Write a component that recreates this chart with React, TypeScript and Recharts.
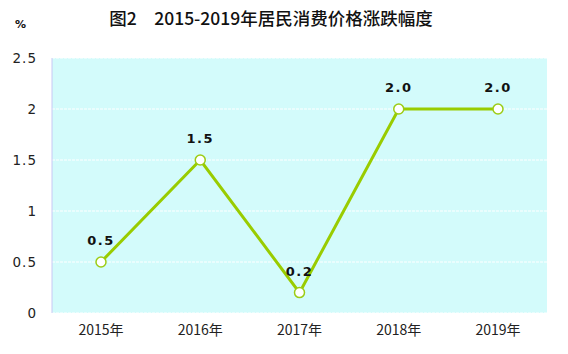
import React from 'react';
import { LineChart, Line, XAxis, YAxis, CartesianGrid, LabelList } from 'recharts';

const years = ['2015年', '2016年', '2017年', '2018年', '2019年'];
const cpiChange = [0.5, 1.5, 0.2, 2.0, 2.0];
const yTicks = [0, 0.5, 1, 1.5, 2, 2.5];

const data = years.map((y, i) => ({ year: y, value: cpiChange[i] }));

const fmtTick = (v: number) => (Number.isInteger(v) ? String(v) : v.toFixed(1));

const YTick = (props: any) => {
  const { x, y, payload } = props;
  return (
    <text x={x} y={y} dy={5} textAnchor="end" fontSize={13.5} fill="#222" letterSpacing={1} fontFamily="'DejaVu Sans', sans-serif">
      {fmtTick(payload.value)}
    </text>
  );
};

const XTick = (props: any) => {
  const { x, y, payload } = props;
  return (
    <text x={x} y={y} dy={14} textAnchor="middle" fontSize={14} fill="#222" fontFamily="'Noto Sans CJK SC', sans-serif">
      {payload.value}
    </text>
  );
};

const Dot = (props: any) => {
  const { cx, cy } = props;
  return <circle cx={cx} cy={cy} r={5} fill="#ffffff" stroke="#9ccc14" strokeWidth={1.5} />;
};

const ValueLabel = (props: any) => {
  const { x, y, value } = props;
  return (
    <text x={x} y={y - 17} textAnchor="middle" fontSize={13} fontWeight="bold" fill="#111" letterSpacing={1.5} fontFamily="'DejaVu Sans', sans-serif">
      {Number(value).toFixed(1)}
    </text>
  );
};

export default function App() {
  return (
    <div style={{ position: 'absolute', left: 0, top: 0, width: 568, height: 354, background: '#fff' }}>
      <div style={{ position: 'absolute', left: 0, top: 5, width: 542, textAlign: 'center', fontFamily: "'Noto Sans CJK SC', sans-serif", fontSize: 17.5, color: '#111', fontWeight: 500 }}>
        图2　2015-2019年居民消费价格涨跌幅度
      </div>
      <div style={{ position: 'absolute', left: 15, top: 18, fontFamily: "'DejaVu Sans', sans-serif", fontSize: 11, fontWeight: 'bold', color: '#111' }}>
        %
      </div>
      <LineChart width={568} height={354} data={data} margin={{ top: 58, right: 21, left: 0, bottom: 0 }}>
        <CartesianGrid horizontal vertical={false} fill="#d3fbfb" stroke="#ffffff" strokeDasharray="3 1" strokeWidth={1} />
        <XAxis dataKey="year" height={41} axisLine={false} tickLine={false} tick={<XTick />} padding={{ left: 49, right: 49 }} interval={0} />
        <YAxis width={52} domain={[0, 2.5]} ticks={yTicks} axisLine={{ stroke: '#c8c8f4' }} tickLine={false} tickMargin={9} tick={<YTick />} interval={0} />
        <Line type="linear" dataKey="value" stroke="#99cc00" strokeWidth={3} dot={<Dot />} activeDot={false} isAnimationActive={false}>
          <LabelList dataKey="value" content={<ValueLabel />} />
        </Line>
      </LineChart>
    </div>
  );
}
